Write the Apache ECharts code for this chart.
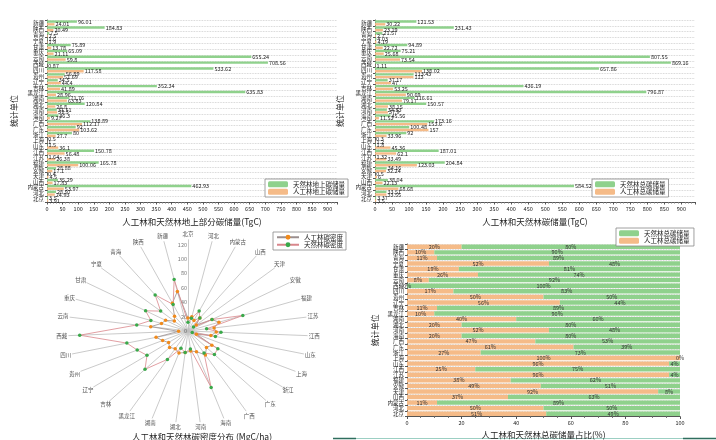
<!DOCTYPE html>
<html><head><meta charset="utf-8">
<script src="https://cdn.jsdelivr.net/npm/echarts@6/dist/echarts.min.js"></script>
<style>html,body{margin:0;padding:0;background:#fff}#c{width:716px;height:440px}</style>
</head><body><div id="c"></div>
<script>
const provinces = ['新疆','陕西','青海','宁夏','甘肃','重庆','云南','西藏','四川','贵州','辽宁','吉林','黑龙江','湖南','湖北','河南','海南','广西','广东','浙江','上海','山东','江西','江苏','福建','安徽','天津','山西','内蒙古','河北','北京'];
const agNatural = [96.01,184.83,7.5,1.6,75.89,65.09,655.24,708.56,533.62,56.89,34.5,352.34,635.83,71.76,120.84,31.51,36.3,138.89,92.0,80.0,0.5,1.5,150.78,1.64,165.78,28.88,0.4,35.29,462.93,28.97,3.5];
const agPlanted = [24.01,20.49,2.5,1.9,13.78,21.11,59.8,0.87,117.58,51.69,44.4,41.89,28.96,63.83,26.8,32.5,9.27,112.17,103.62,27.7,1.0,36.1,56.48,26.38,100.06,17.1,4.5,17.83,53.97,24.93,3.91];
const totNatural = [121.53,231.43,21.57,4.03,94.89,75.21,807.55,869.16,657.86,113.43,37.17,436.19,796.87,116.61,150.57,34.83,45.56,173.16,100.48,92.0,0.3,1.8,187.01,1.32,204.84,34.16,0.5,38.04,584.52,33.51,3.37];
const totPlanted = [30.22,23.19,2.7,4.19,22.72,25.68,73.54,1.11,138.02,113.0,47.0,53.25,90.69,79.17,38.15,37.9,11.53,153.6,157.0,33.96,1.2,45.36,62.1,33.49,123.03,32.24,6.0,22.13,68.68,33.55,3.5];
const pctPlanted = [20,10,11,52,19,26,8,0,17,50,56,11,10,40,20,52,20,47,61,27,100,96,25,96,38,49,92,37,11,50,51];
const pctNatural = [80,90,89,48,81,74,92,100,83,50,44,89,90,60,80,48,80,53,39,73,0,4,75,4,62,51,8,63,89,50,49];
const xTicks1 = {min:0,max:930,interval:50};
const xTicks2 = {min:0,max:940,interval:50};
const pctTicks = {min:0,max:100,interval:20};
// radar, clockwise from top
const radarOrder = ['北京','河北','内蒙古','山西','天津','安徽','福建','江苏','江西','山东','上海','浙江','广东','广西','海南','河南','湖北','湖南','黑龙江','吉林','辽宁','贵州','四川','西藏','云南','重庆','甘肃','宁夏','青海','陕西','新疆'];
const densPlanted = [18,20,16,22,12,30,35,28,30,25,10,32,30,38,30,28,30,32,28,30,26,30,35,10,40,30,28,20,25,42,56];
const densNatural = [12,18,30,22,8,30,62,20,35,30,5,40,43,35,82,25,30,25,45,70,55,60,67,115,55,42,53,40,61,40,73];
const radarTicks = [0,20,40,60,80,100,120];
const radarAxisLen = 127, radarNameR = 134;

const GREEN = '#8fd18c', ORANGE = '#f5bb88';
const FONT = '"Noto Sans CJK SC", sans-serif';

const N = radarOrder.length;
function polar(v, i){ const a = i*2*Math.PI/N; return [v*Math.sin(a), v*Math.cos(a)]; }
function ring(vals){
  const pts = vals.map((v,i)=>({value:polar(v,i)}));
  pts.push({value:polar(vals[0],0), symbolSize:0});
  return pts;
}

const chart = echarts.init(document.getElementById('c'));
const lbl = {show:true, position:'right', fontSize:5.5, color:'#222', distance:1, fontFamily:FONT};
function catAxis(gi, name, gap){
  return {type:'category', gridIndex:gi, data:provinces, inverse:true,
    name:name, nameLocation:'middle', nameGap:gap, nameRotate:90,
    nameTextStyle:{fontSize:8, color:'#222', fontFamily:FONT},
    axisLine:{lineStyle:{color:'#555', width:1}}, axisTick:{show:true, length:2, lineStyle:{color:'#555'}},
    axisLabel:{fontSize:5.5, color:'#222', margin:3, interval:0, fontFamily:FONT},
    splitLine:{show:true, lineStyle:{color:'#c8c8c8', type:'dotted', width:0.8}}};
}
function valAxis(gi, t, name, gap){
  return {type:'value', gridIndex:gi, min:t.min, max:t.max, interval:t.interval,
    name:name, nameLocation:'middle', nameGap:gap,
    nameTextStyle:{fontSize:8.5, color:'#222', fontFamily:FONT},
    axisLine:{show:true, lineStyle:{color:'#555', width:1}},
    axisTick:{show:true, length:2.5, lineStyle:{color:'#555'}},
    minorTick:{show:true, splitNumber:5, length:1.5, lineStyle:{color:'#777'}},
    axisLabel:{fontSize:5.5, color:'#222', margin:4, showMaxLabel: t.max % t.interval === 0, fontFamily:FONT},
    splitLine:{show:false}};
}
const hiddenAxis = gi => ({type:'value', gridIndex:gi, min:-140, max:140, show:false, splitLine:{show:false}});
const legendBase = {orient:'vertical', itemWidth:20, itemHeight:6, itemGap:1, padding:[2,3],
  borderColor:'#888', borderWidth:0.8, textStyle:{fontSize:6.5, color:'#222', fontFamily:FONT}, backgroundColor:'#fff'};

const option = {
  animation:false,
  backgroundColor:'#fff',
  grid:[
    {left:47, top:20, width:290, height:182},
    {left:375, top:20, width:320, height:182},
    {left:407, top:244, width:273, height:174},
    {left:56, top:230, width:264, height:202}
  ],
  xAxis:[
    valAxis(0, xTicks1, '人工林和天然林地上部分碳储量(TgC)', 16),
    valAxis(1, xTicks2, '人工林和天然林碳储量(TgC)', 16),
    Object.assign(valAxis(2, pctTicks, '人工林和天然林总碳储量占比(%)', 14), {minorTick:{show:true, splitNumber:4, length:1.5, lineStyle:{color:'#777'}}}),
    hiddenAxis(3)
  ],
  yAxis:[
    catAxis(0, '统计单位', 29),
    catAxis(1, '统计单位', 31),
    catAxis(2, '统计单位', 28),
    hiddenAxis(3)
  ],
  legend:[
    Object.assign({}, legendBase, {left:265, top:179, data:['天然林地上碳储量','人工林地上碳储量']}),
    Object.assign({}, legendBase, {left:592, top:179, data:['天然林总碳储量','人工林总碳储量']}),
    Object.assign({}, legendBase, {left:273, top:232, itemWidth:22, data:['人工林碳密度','天然林碳密度']}),
    Object.assign({}, legendBase, {left:616, top:228, data:['天然林总碳储量 ','人工林总碳储量 ']})
  ],
  series:[
    {type:'bar', name:'天然林地上碳储量', xAxisIndex:0, yAxisIndex:0, data:agNatural, barWidth:2.4, barGap:'15%',
      itemStyle:{color:GREEN}, label:lbl},
    {type:'bar', name:'人工林地上碳储量', xAxisIndex:0, yAxisIndex:0, data:agPlanted, barWidth:2.4, barGap:'15%',
      itemStyle:{color:ORANGE}, label:lbl},
    {type:'bar', name:'天然林总碳储量', xAxisIndex:1, yAxisIndex:1, data:totNatural, barWidth:2.4, barGap:'15%',
      itemStyle:{color:GREEN}, label:lbl},
    {type:'bar', name:'人工林总碳储量', xAxisIndex:1, yAxisIndex:1, data:totPlanted, barWidth:2.4, barGap:'15%',
      itemStyle:{color:ORANGE}, label:lbl},
    {type:'bar', name:'人工林总碳储量 ', xAxisIndex:2, yAxisIndex:2, stack:'p', data:pctPlanted, barWidth:4.4,
      itemStyle:{color:ORANGE}, label:{show:true, position:'inside', formatter:'{c}%', fontSize:5.5, color:'#333', fontFamily:FONT}},
    {type:'bar', name:'天然林总碳储量 ', xAxisIndex:2, yAxisIndex:2, stack:'p', data:pctNatural, barWidth:4.4,
      itemStyle:{color:GREEN}, label:{show:true, position:'inside', formatter:'{c}%', fontSize:5.5, color:'#333', fontFamily:FONT}},
    {type:'lines', coordinateSystem:'cartesian2d', xAxisIndex:3, yAxisIndex:3, silent:true,
      lineStyle:{color:'#bdbdbd', width:0.8, opacity:1},
      data: radarOrder.map((n,i)=>({coords:[[0,0], polar(radarAxisLen,i)]}))},
    {type:'scatter', xAxisIndex:3, yAxisIndex:3, symbolSize:0, silent:true,
      data: radarOrder.map((n,i)=>({value:polar(radarNameR,i).concat([n])})),
      label:{show:true, position:'inside', formatter:p=>p.value[2], fontSize:5.5, color:'#222', fontFamily:FONT}},
    {type:'scatter', xAxisIndex:3, yAxisIndex:3, symbolSize:0, silent:true,
      data: radarTicks.map(v=>({value:[0,v]})),
      label:{show:true, position:'left', distance:1, formatter:p=>String(p.value[1]), fontSize:5.5, color:'#555', fontFamily:FONT}},
    {type:'line', name:'人工林碳密度', xAxisIndex:3, yAxisIndex:3, data:ring(densPlanted), symbol:'circle', symbolSize:3.5,
      itemStyle:{color:'#f08a1c'}, lineStyle:{color:'#9a8f8f', width:0.8}},
    {type:'line', name:'天然林碳密度', xAxisIndex:3, yAxisIndex:3, data:ring(densNatural), symbol:'circle', symbolSize:3.5,
      itemStyle:{color:'#3aa84a'}, lineStyle:{color:'#d9868c', width:0.8}}
  ],
  graphic:[
    {type:'text', x:202, y:437, style:{text:'人工林和天然林碳密度分布 (MgC/ha)', fontSize:8.5, fontFamily:'Noto Sans CJK SC', fill:'#222', align:'center', verticalAlign:'middle'}},
    {type:'line', shape:{x1:335, y1:438.5, x2:716, y2:438.5}, style:{stroke:'#9ccfc3', lineWidth:1}},
    {type:'line', shape:{x1:333, y1:438.5, x2:356, y2:438.5}, style:{stroke:'#2f6e5e', lineWidth:1.5}},
    {type:'line', shape:{x1:683, y1:438.5, x2:716, y2:438.5}, style:{stroke:'#2f6e5e', lineWidth:1.5}}
  ]
};
chart.setOption(option);
</script></body></html>
